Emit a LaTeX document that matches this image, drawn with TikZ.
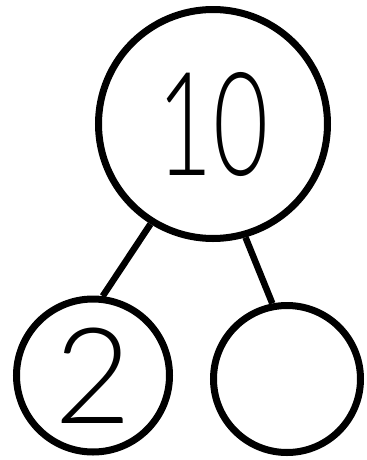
\documentclass[tikz,border=0pt]{standalone}
\usepackage{fontspec}
\newfontfamily\wholefont[FakeStretch=0.66]{Lato Light}
\newfontfamily\partfont{Lato Light}
\usetikzlibrary{positioning}

\begin{document}
\begin{tikzpicture}[
            bond/.style={draw=black, circle, line width=0.14cm, inner sep=0pt},
            whole/.style={bond, minimum size=4.58cm, font=\wholefont\fontsize{82}{82}\selectfont},
            part/.style={bond, font=\partfont\fontsize{76}{76}\selectfont},
            link/.style={line width=0.13cm}
        ]
            \useasboundingbox (0,0) rectangle (7.34,-9.2);

            % Whole (top circle)
            \node[whole] (ten) at (4.26,-2.48) {10};

            % Parts (bottom circles)
            \node[part, minimum size=3.06cm] (two) at (1.86,-7.51) {2};
            \node[part, minimum size=2.94cm] (blank) at (5.74,-7.58) {};

            % Connections
            \draw[link] (ten.-122) -- (two.83);
            \draw[link] (ten.-74) -- (blank.101);

        \end{tikzpicture}
\end{document}
